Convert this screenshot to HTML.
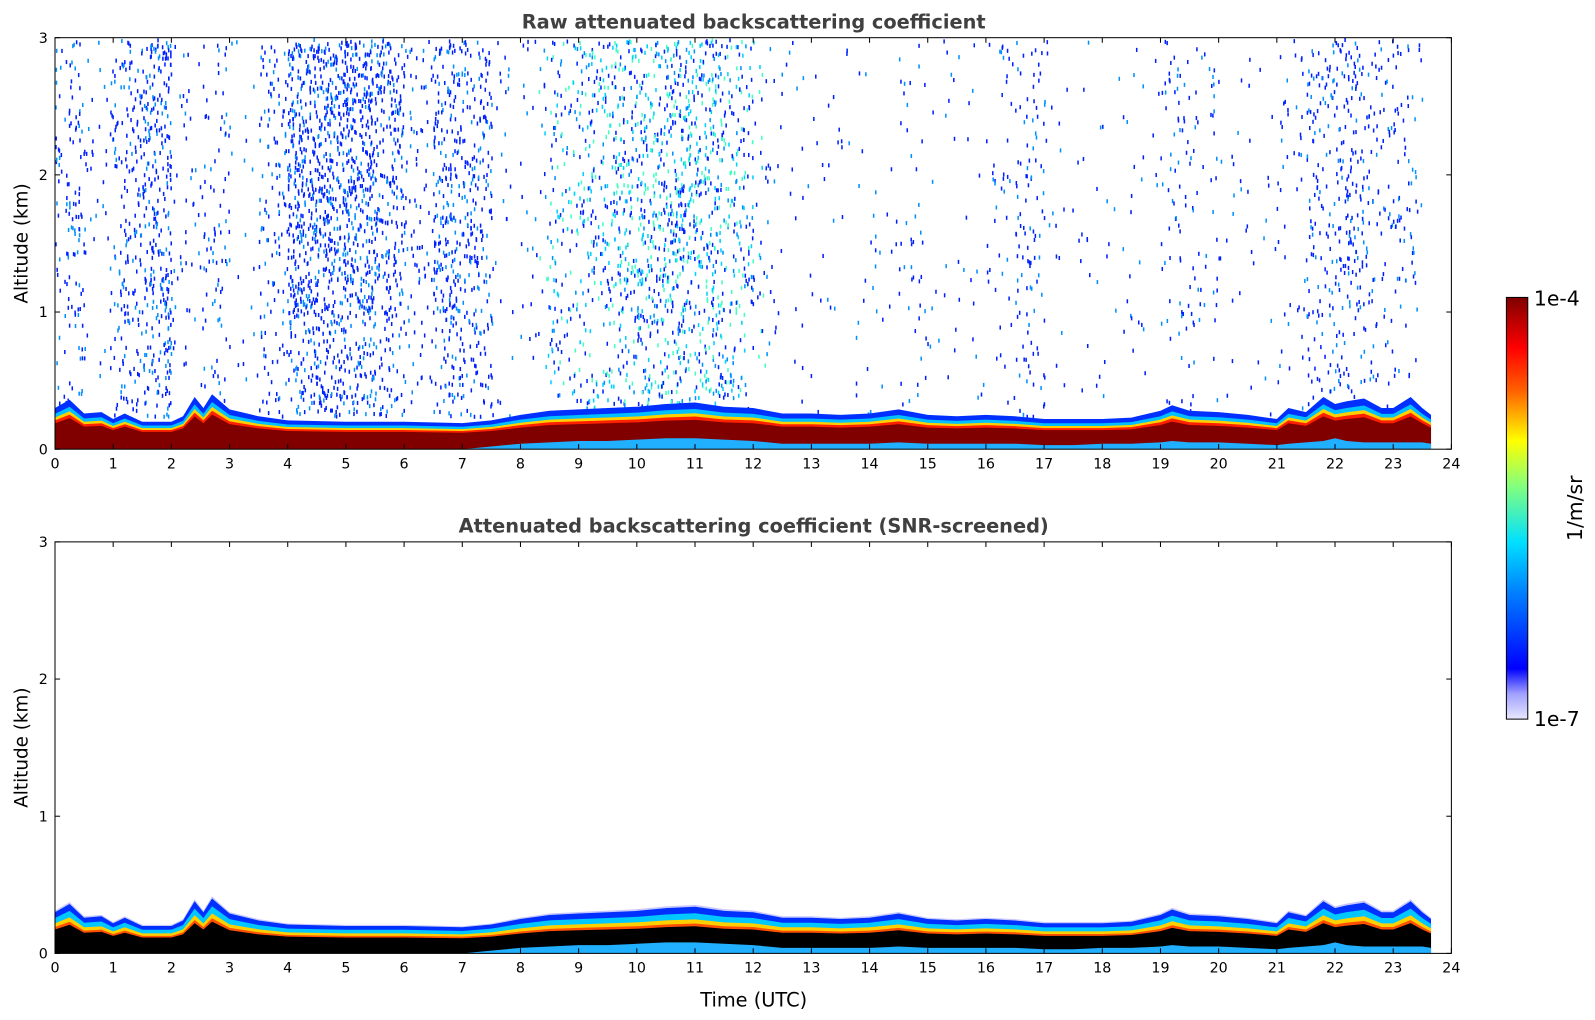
<!DOCTYPE html>
<html><head><meta charset="utf-8">
<style>
html,body{margin:0;padding:0;background:#fff;overflow:hidden;width:1595px;height:1020px}
svg{display:block}
svg text{font-family:"DejaVu Sans","Liberation Sans",sans-serif}
</style></head>
<body>
<svg id="chart" width="1595" height="1020" viewBox="0 0 1566 1001.4" preserveAspectRatio="none" xmlns="http://www.w3.org/2000/svg">
<defs>
<linearGradient id="jet" x1="0" y1="1" x2="0" y2="0">
<stop offset="0" stop-color="#e8e8ff"/><stop offset="0.06" stop-color="#a0a0ff"/>
<stop offset="0.12" stop-color="#0000ff"/><stop offset="0.3" stop-color="#0080ff"/>
<stop offset="0.42" stop-color="#00e0ff"/><stop offset="0.55" stop-color="#80ff80"/>
<stop offset="0.66" stop-color="#ffff00"/><stop offset="0.78" stop-color="#ff6000"/>
<stop offset="0.88" stop-color="#ff0000"/><stop offset="1" stop-color="#800000"/>
</linearGradient>
</defs>
<g id="g"></g>
</svg>
<script>
// Boundary-layer top heights (km)
const times=[0,0.25,0.5,0.8,1,1.2,1.5,2,2.2,2.4,2.55,2.7,3,3.5,4,5,6,7,7.5,8,8.5,9,9.5,10,10.5,11,11.5,12,12.5,13,13.5,14,14.5,15,15.5,16,16.5,17,17.5,18,18.5,19,19.2,19.5,20,20.5,21,21.2,21.5,21.8,22,22.2,22.5,22.8,23,23.3,23.5,23.65];
const topH=[0.3,0.36,0.26,0.27,0.22,0.26,0.2,0.2,0.24,0.38,0.3,0.4,0.29,0.24,0.21,0.2,0.2,0.19,0.21,0.25,0.28,0.29,0.3,0.31,0.33,0.34,0.31,0.3,0.26,0.26,0.25,0.26,0.29,0.25,0.24,0.25,0.24,0.22,0.22,0.22,0.23,0.28,0.32,0.28,0.27,0.25,0.22,0.3,0.27,0.38,0.33,0.35,0.37,0.3,0.3,0.38,0.3,0.25];
const baseH=[0,0,0,0,0,0,0,0,0,0,0,0,0,0,0,0,0,0,0.02,0.04,0.05,0.06,0.06,0.07,0.08,0.08,0.07,0.06,0.04,0.04,0.04,0.04,0.05,0.04,0.04,0.04,0.04,0.03,0.03,0.04,0.04,0.05,0.06,0.05,0.05,0.04,0.03,0.04,0.05,0.06,0.08,0.06,0.05,0.05,0.05,0.05,0.05,0.04];
// speckle (noise) density per half hour, top panel
const noiseDensity=[0.15,0.05,0.2,0.35,0.05,0.1,0.02,0.15,0.45,0.45,0.45,0.3,0.1,0.3,0.25,0.03,0.05,0.15,0.2,0.25,0.3,0.35,0.3,0.2,0.05,0.02,0.02,0.02,0.02,0.05,0.02,0.02,0.05,0.12,0.02,0.02,0.02,0.02,0.08,0.06,0.02,0.02,0.05,0.15,0.2,0.1,0.08,0];
const xTicks=[...Array(25).keys()];
const yTicks=[0,1,2,3];

const NS="http://www.w3.org/2000/svg";
const G=document.getElementById('g');
function el(t,a,p){const e=document.createElementNS(NS,t);for(const k in a)e.setAttribute(k,a[k]);(p||G).appendChild(e);return e;}
const X0=54,X1=1425;
const xs=t=>X0+(X1-X0)*t/24;

function panel(top,bottom,name,title,layers,noise){
  const ys=v=>bottom-(bottom-top)*v/3;
  const g=el('g',{});
  
  
  el('rect',{x:X0,y:top,width:X1-X0,height:bottom-top,fill:'#fff'},g);
  if(noise){
    let s=12345;const rnd=()=>{s=(s*1103515245+12345)%2147483648;return s/2147483648;};
    const sg=el('g',{},g);
    
    
    noiseDensity.forEach((d,i)=>{
      const n=Math.round(d*900);
      for(let k=0;k<n;k++){
        const t=i*0.5+rnd()*0.5; if(t>23.65)continue;
        let a=1+rnd()*2; if(rnd()<0.2)a=0.25+rnd()*0.75;
        const cyan=(t>8.3&&t<12.2&&rnd()<0.45);
        const c=cyan?(rnd()<0.5?'#00d0ff':'#40ffc0'):(rnd()<0.7?'#0020ff':'#0090ff');
        el('rect',{x:xs(t).toFixed(1),y:ys(a).toFixed(1),width:1.5,height:4,fill:c},sg);
      }
    });
  }
  layers.forEach(([f,c,nm])=>{
    let d='M'+xs(times[0])+','+ys(0);
    times.forEach((t,i)=>{d+=' L'+xs(t).toFixed(1)+','+ys(topH[i]*f).toFixed(1);});
    d+=' L'+xs(times[times.length-1])+','+ys(0)+'Z';
    const p=el('path',{d:d,fill:c},g);
    
    
  });
  let d='M'+xs(times[0])+','+ys(0);
  times.forEach((t,i)=>{d+=' L'+xs(t).toFixed(1)+','+ys(baseH[i]).toFixed(1);});
  d+=' L'+xs(times[times.length-1])+','+ys(0)+'Z';
  const bp=el('path',{d:d,fill:'#20b0ff'},g);
  
  
  el('rect',{x:X0,y:top,width:X1-X0,height:bottom-top,fill:'none',stroke:'#000','stroke-width':1},g);
  xTicks.forEach(t=>{
    const x=xs(t);
    el('line',{x1:x,x2:x,y1:bottom,y2:bottom-5,stroke:'#000'},g);
    el('line',{x1:x,x2:x,y1:top,y2:top+5,stroke:'#000'},g);
    const tx=el('text',{x:x,y:bottom+19,'font-size':14,'text-anchor':'middle'},g);tx.textContent=t;
    
    
  });
  yTicks.forEach(v=>{
    const y=ys(v);
    el('line',{x1:X0,x2:X0+5,y1:y,y2:y,stroke:'#000'},g);
    el('line',{x1:X1,x2:X1-5,y1:y,y2:y,stroke:'#000'},g);
    const tx=el('text',{x:X0-7,y:y+5,'font-size':14,'text-anchor':'end'},g);tx.textContent=v;
    
    
  });
  const tt=el('text',{x:740,y:top-9,'font-size':19,'font-weight':'bold','text-anchor':'middle',fill:'#404040'},g);tt.textContent=title;
  
  
  const yl=el('text',{x:0,y:0,'font-size':18,'text-anchor':'middle',transform:`translate(27,${(top+bottom)/2}) rotate(-90)`},g);yl.textContent='Altitude (km)';
  
  
}
panel(37,441,'raw-panel','Raw attenuated backscattering coefficient',
 [[1,'#0030ff','layer-blue'],[0.86,'#00c0ff','layer-cyan'],[0.77,'#ffd000','layer-yellow'],[0.7,'#ff2000','layer-red'],[0.63,'#800000','layer-core']],true);
panel(532,936,'snr-panel','Attenuated backscattering coefficient (SNR-screened)',
 [[1.04,'#c8c8ff','layer-halo'],[1,'#0030ff','layer-blue'],[0.86,'#00c8ff','layer-cyan'],[0.73,'#ffd000','layer-yellow'],[0.64,'#ff5000','layer-orange'],[0.58,'#000000','layer-core']],false);
const xl=el('text',{x:740,y:988,'font-size':19,'text-anchor':'middle'});xl.textContent='Time (UTC)';


const cb=el('rect',{x:1479,y:292,width:21,height:414,fill:'url(#jet)',stroke:'#000'});


const c1=el('text',{x:1506,y:300,'font-size':20});c1.textContent='1e-4';


const c2=el('text',{x:1506,y:713,'font-size':20});c2.textContent='1e-7';


const c3=el('text',{x:0,y:0,'font-size':20,'text-anchor':'middle',transform:'translate(1553,499) rotate(-90)'});c3.textContent='1/m/sr';


</script>
</body></html>
